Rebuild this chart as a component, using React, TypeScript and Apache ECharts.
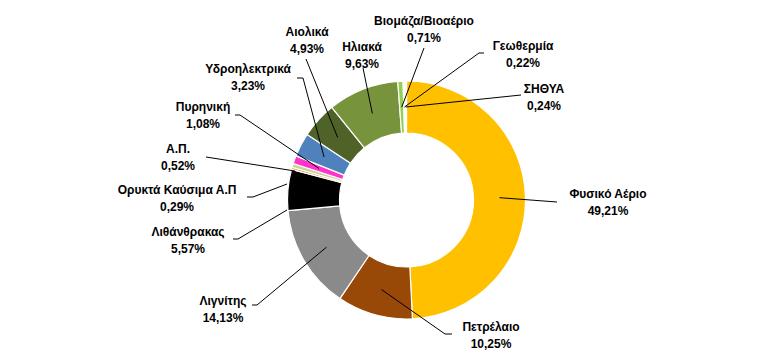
import React, { useEffect, useRef } from "react";
import * as echarts from "echarts";

const categories = [
  "Φυσικό Αέριο",
  "Πετρέλαιο",
  "Λιγνίτης",
  "Λιθάνθρακας",
  "Ορυκτά Καύσιμα Α.Π",
  "Α.Π.",
  "Πυρηνική",
  "Υδροηλεκτρικά",
  "Αιολικά",
  "Ηλιακά",
  "Βιομάζα/Βιοαέριο",
  "Γεωθερμία",
  "ΣΗΘΥΑ",
];
const shares = [49.21, 10.25, 14.13, 5.57, 0.29, 0.52, 1.08, 3.23, 4.93, 9.63, 0.71, 0.22, 0.24];
const colors = [
  "#FFC000", "#984807", "#8A8A8A", "#000000", "#F79646", "#C3D69B", "#FF33CC",
  "#4F81BD", "#4F6228", "#77933C", "#92D050", "#F2DCDB", "#FDE9D9",
];

// label layout (positions only): label block centre, leader line bend points, optional start override
const CX = 406.5;
const CY = 200;
const R_IN = 67;
const R_OUT = 119;
type LayoutItem = { c: [number, number]; pts: [number, number][]; start?: [number, number] };
const labelLayouts: LayoutItem[] = [
  { c: [608, 202], pts: [[557, 202]] },
  { c: [491, 335], pts: [[445, 334], [452, 334]] },
  { c: [223, 309], pts: [[257, 305], [252, 305]] },
  { c: [188, 240], pts: [[238, 239], [233, 239]], start: [287, 210] },
  { c: [177, 198], pts: [[253, 197], [247, 197]], start: [287, 184] },
  { c: [178, 157], pts: [[206, 157]], start: [295, 171] },
  { c: [203, 115], pts: [[240, 115], [235, 115]] },
  { c: [248, 77], pts: [[303, 78], [297, 78]] },
  { c: [307, 40], pts: [[306, 59]] },
  { c: [362, 55], pts: [[363, 68]] },
  { c: [424, 29], pts: [[424, 48]] },
  { c: [523, 54], pts: [[479, 53], [484, 53]] },
  { c: [544, 97], pts: [[521, 95]] },
];

export default function App() {
  const ref = useRef<HTMLDivElement>(null);
  useEffect(() => {
    if (!ref.current) return;
    const chart = echarts.init(ref.current, undefined, { renderer: "svg" });
    const total = shares.reduce((a, b) => a + b, 0);
    const cum: number[] = [];
    let acc = 0;
    shares.forEach((v) => {
      cum.push(acc + v / 2);
      acc += v;
    });
    const rm = (R_IN + R_OUT) / 2;
    const leaderLines = labelLayouts.map((L, i) => {
      const ang = (cum[i] / total) * Math.PI * 2;
      const s: [number, number] =
        L.start || [CX + rm * Math.sin(ang), CY - rm * Math.cos(ang)];
      return {
        type: "polyline",
        z: 100,
        silent: true,
        shape: { points: [s, ...L.pts] },
        style: { stroke: "#000000", lineWidth: 1, fill: null },
      };
    });
    chart.setOption({
      animation: false,
      backgroundColor: "#ffffff",
      graphic: { elements: leaderLines },
      series: [
        {
          type: "pie",
          center: [CX, CY],
          radius: [R_IN, R_OUT],
          startAngle: 90,
          clockwise: true,
          silent: true,
          avoidLabelOverlap: false,
          itemStyle: { borderColor: "#ffffff", borderWidth: 1.2 },
          label: {
            show: true,
            position: "outside",
            formatter: (p: any) =>
              p.name + "\n" + Number(p.value).toFixed(2).replace(".", ",") + "%",
            fontFamily: "Liberation Sans, Arial, sans-serif",
            fontWeight: "bold",
            fontSize: 12,
            lineHeight: 17,
            color: "#000000",
            align: "center",
          },
          labelLine: { show: false },
          labelLayout: (params: any) => {
            const L = labelLayouts[params.dataIndex];
            return {
              x: L.c[0],
              y: L.c[1],
              align: "center",
              verticalAlign: "middle",
            };
          },
          data: categories.map((name, i) => ({
            name,
            value: shares[i],
            itemStyle: { color: colors[i] },
          })),
        },
      ],
    });
    return () => chart.dispose();
  }, []);
  return (
    <div
      ref={ref}
      style={{ width: 769, height: 361, position: "absolute", left: 0, top: 0 }}
    />
  );
}
